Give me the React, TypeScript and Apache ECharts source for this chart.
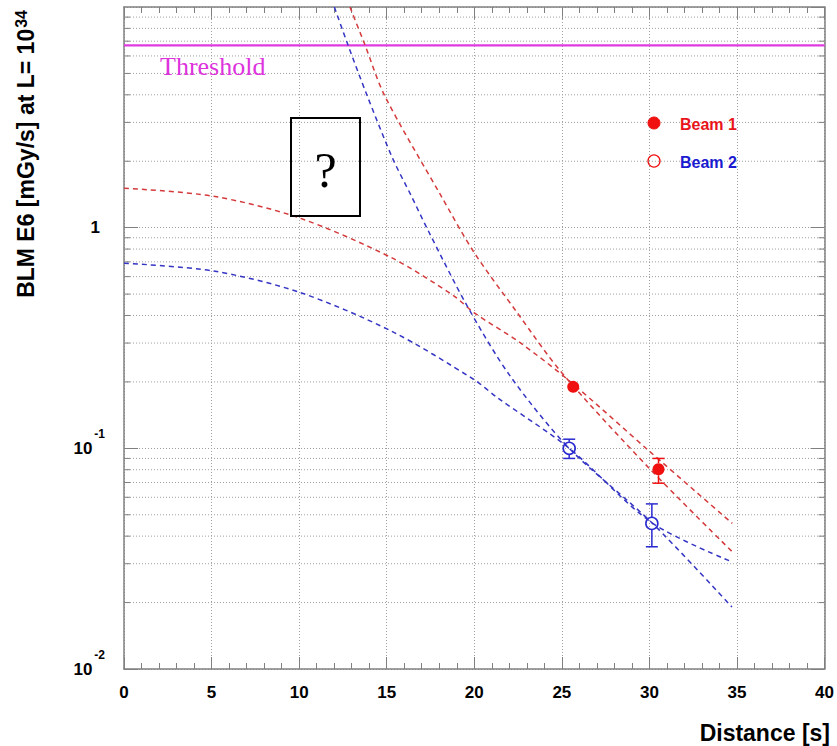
import React, { useEffect, useRef } from 'react';
import * as echarts from 'echarts';

// ---- axis ticks / labels ----
const X_MIN = 0;
const X_MAX = 40;
const X_STEP = 5;
const Y_MIN = 0.01;
const Y_MAX = 10;
const Y_DECADES = [0.01, 0.1, 1];
const Y_LABEL_BASE = ['10', '10', '1'];
const Y_LABEL_EXP = ['-2', '-1', ''];
const Y_MINOR = [
  0.02, 0.03, 0.04, 0.05, 0.06, 0.07, 0.08, 0.09,
  0.2, 0.3, 0.4, 0.5, 0.6, 0.7, 0.8, 0.9,
  2, 3, 4, 5, 6, 7, 8, 9,
];

// ---- curves ----
const RED_STEEP_X = [12.9, 13.75, 14.88, 18.09, 19.98, 22.44, 25.0, 30.0, 34.73];
const RED_STEEP_Y = [10, 6.76, 3.97, 1.4, 0.774, 0.413, 0.22, 0.081, 0.034];

const RED_FLAT_X = [0, 5.06, 9.97, 15.26, 18.85, 19.98, 22.62, 25.5, 30.0, 34.73];
const RED_FLAT_Y = [1.51, 1.39, 1.11, 0.732, 0.49, 0.412, 0.301, 0.2, 0.097, 0.0457];

const BLUE_STEEP_X = [12.01, 12.78, 13.88, 15.35, 16.39, 17.34, 19.6, 22.06, 25.42, 30.14, 34.71];
const BLUE_STEEP_Y = [10, 6.76, 3.97, 2.05, 1.4, 0.98, 0.441, 0.212, 0.1, 0.046, 0.0191];

const BLUE_FLAT_X = [0, 5.06, 9.97, 15.26, 19.98, 21.3, 25.42, 30.14, 34.71];
const BLUE_FLAT_Y = [0.69, 0.637, 0.511, 0.34, 0.205, 0.17, 0.1, 0.046, 0.0306];

// ---- measured points ----
const BEAM1_X = [25.65, 30.52];
const BEAM1_Y = [0.19, 0.0804];
const BEAM1_LO = [0.19, 0.0695];
const BEAM1_HI = [0.19, 0.09];

const BEAM2_X = [25.42, 30.14];
const BEAM2_Y = [0.1, 0.0457];
const BEAM2_LO = [0.09, 0.0358];
const BEAM2_HI = [0.11, 0.056];

const THRESHOLD = 6.7;

const FONT = '"Liberation Sans", Arial, Helvetica, sans-serif';
const SERIF = '"Liberation Serif", "Times New Roman", serif';
const FRAME = '#808080';
const GRID = '#a0a0a0';
const RED_LINE = '#d43a3c';
const BLUE_LINE = '#3535c4';
const RED_MARK = '#f01010';
const BLUE_MARK = '#2a2ad0';

function pairs(xs: number[], ys: number[]) {
  return xs.map((x, i) => [x, ys[i]]);
}

function errorRender(color: string, r: number) {
  return (params: any, api: any) => {
    const x = api.value(0);
    const y = api.value(1);
    const lo = api.value(2);
    const hi = api.value(3);
    const pc = api.coord([x, y]);
    const pl = api.coord([x, lo]);
    const ph = api.coord([x, hi]);
    const children: any[] = [];
    const st = { stroke: color, lineWidth: 1.5 };
    if (ph[1] < pc[1] - r) {
      children.push({ type: 'line', shape: { x1: pc[0], y1: ph[1], x2: pc[0], y2: pc[1] - r }, style: st });
      children.push({ type: 'line', shape: { x1: pc[0] - 6, y1: ph[1], x2: pc[0] + 6, y2: ph[1] }, style: st });
    }
    if (pl[1] > pc[1] + r) {
      children.push({ type: 'line', shape: { x1: pc[0], y1: pc[1] + r, x2: pc[0], y2: pl[1] }, style: st });
      children.push({ type: 'line', shape: { x1: pc[0] - 6, y1: pl[1], x2: pc[0] + 6, y2: pl[1] }, style: st });
    }
    return { type: 'group', children };
  };
}

function curve(name: string, xs: number[], ys: number[], color: string) {
  return {
    name,
    type: 'line',
    data: pairs(xs, ys),
    smooth: 0.3,
    showSymbol: false,
    silent: true,
    z: 3,
    lineStyle: { color, width: 1.5, type: [5, 4] },
  };
}

export default function App() {
  const ref = useRef<HTMLDivElement>(null);

  useEffect(() => {
    if (!ref.current) return;
    const chart = echarts.init(ref.current, undefined, { renderer: 'svg' });

    const xAxisCommon = {
      type: 'value',
      min: X_MIN,
      max: X_MAX,
      interval: X_STEP,
      axisLine: { show: true, onZero: false, lineStyle: { color: FRAME, width: 1.5 } },
      axisTick: { show: true, inside: true, length: 12, lineStyle: { color: FRAME, width: 1 } },
      minorTick: { show: true, splitNumber: 5, length: 6, lineStyle: { color: FRAME, width: 1 } },
      minorSplitLine: { show: false },
    };

    const option: any = {
      animation: false,
      grid: { left: 124, right: 7, top: 7, bottom: 77, containLabel: false },
      xAxis: [
        {
          ...xAxisCommon,
          position: 'bottom',
          splitLine: { show: true, lineStyle: { color: GRID, width: 1, type: [1, 2] } },
          axisLabel: {
            color: '#000',
            fontSize: 17,
            fontWeight: 'bold',
            fontFamily: FONT,
            margin: 15,
          },
        },
        {
          ...xAxisCommon,
          position: 'top',
          splitLine: { show: false },
          axisLabel: { show: false },
        },
      ],
      yAxis: [
        {
          type: 'log',
          logBase: 10,
          min: Y_MIN,
          max: Y_MAX,
          position: 'left',
          axisLine: { show: true, onZero: false, lineStyle: { color: FRAME, width: 1.5 } },
          axisTick: { show: true, inside: true, length: 14, lineStyle: { color: FRAME, width: 1 } },
          splitLine: { show: true, lineStyle: { color: GRID, width: 1, type: [1, 2] } },
          axisLabel: {
            margin: 19,
            showMaxLabel: false,
            formatter: (v: number) => {
              const i = Y_DECADES.findIndex((d) => Math.abs(Math.log10(d) - Math.log10(v)) < 1e-6);
              if (i < 0) return '';
              if (!Y_LABEL_EXP[i]) return '{o|' + Y_LABEL_BASE[i] + '}';
              return '{n|' + Y_LABEL_BASE[i] + '}{s|' + Y_LABEL_EXP[i] + '}';
            },
            rich: {
              n: { fontSize: 17, fontWeight: 'bold', fontFamily: FONT, color: '#000' },
              o: { fontSize: 17, fontWeight: 'bold', fontFamily: FONT, color: '#000', padding: [0, 5, 0, 0] },
              s: { fontSize: 12, fontWeight: 'bold', fontFamily: FONT, color: '#000', padding: [0, 0, 28, 2] },
            },
          },
        },
        {
          type: 'log',
          logBase: 10,
          min: Y_MIN,
          max: Y_MAX,
          position: 'right',
          axisLine: { show: true, onZero: false, lineStyle: { color: FRAME, width: 1.5 } },
          axisTick: { show: true, inside: true, length: 14, lineStyle: { color: FRAME, width: 1 } },
          splitLine: { show: false },
          axisLabel: { show: false },
        },
      ],
      series: [
        {
          name: 'minorGrid',
          type: 'custom',
          silent: true,
          z: 1,
          data: Y_MINOR.map((v) => [0, v]),
          renderItem: (params: any, api: any) => {
            const v = api.value(1);
            const a = api.coord([X_MIN, v]);
            const b = api.coord([X_MAX, v]);
            return {
              type: 'group',
              children: [
                { type: 'line', shape: { x1: a[0], y1: a[1], x2: b[0], y2: b[1] }, style: { stroke: GRID, lineWidth: 1, lineDash: [1, 2] } },
                { type: 'line', shape: { x1: a[0], y1: a[1], x2: a[0] + 6, y2: a[1] }, style: { stroke: FRAME, lineWidth: 1 } },
                { type: 'line', shape: { x1: b[0] - 6, y1: b[1], x2: b[0], y2: b[1] }, style: { stroke: FRAME, lineWidth: 1 } },
              ],
            };
          },
        },
        {
          name: 'Threshold',
          type: 'line',
          data: [[X_MIN, THRESHOLD], [X_MAX, THRESHOLD]],
          showSymbol: false,
          silent: true,
          z: 2,
          lineStyle: { color: '#e03ae0', width: 2.2 },
        },
        curve('Beam 1 fit A', RED_FLAT_X, RED_FLAT_Y, RED_LINE),
        curve('Beam 1 fit B', RED_STEEP_X, RED_STEEP_Y, RED_LINE),
        curve('Beam 2 fit A', BLUE_FLAT_X, BLUE_FLAT_Y, BLUE_LINE),
        curve('Beam 2 fit B', BLUE_STEEP_X, BLUE_STEEP_Y, BLUE_LINE),
        {
          name: 'Beam 1 err',
          type: 'custom',
          silent: true,
          z: 4,
          data: BEAM1_X.map((x, i) => [x, BEAM1_Y[i], BEAM1_LO[i], BEAM1_HI[i]]),
          renderItem: errorRender(RED_MARK, 6),
        },
        {
          name: 'Beam 2 err',
          type: 'custom',
          silent: true,
          z: 4,
          data: BEAM2_X.map((x, i) => [x, BEAM2_Y[i], BEAM2_LO[i], BEAM2_HI[i]]),
          renderItem: errorRender(BLUE_MARK, 6.5),
        },
        {
          name: 'Beam 1',
          type: 'scatter',
          data: pairs(BEAM1_X, BEAM1_Y),
          symbol: 'circle',
          symbolSize: 12,
          z: 5,
          itemStyle: { color: RED_MARK, opacity: 1 },
        },
        {
          name: 'Beam 2',
          type: 'scatter',
          data: pairs(BEAM2_X, BEAM2_Y),
          symbol: 'circle',
          symbolSize: 12,
          z: 5,
          itemStyle: { color: 'rgba(0,0,0,0)', borderColor: BLUE_MARK, borderWidth: 1.6, opacity: 1 },
        },
      ],
      graphic: [
        {
          type: 'text',
          x: 160,
          y: 66,
          style: { text: 'Threshold', fill: '#dd33dd', font: '26px ' + SERIF, align: 'left', verticalAlign: 'middle' },
          z: 10,
        },
        {
          type: 'rect',
          shape: { x: 291, y: 118, width: 69, height: 98 },
          style: { fill: 'none', stroke: '#000', lineWidth: 2 },
          z: 10,
        },
        {
          type: 'text',
          x: 325.5,
          y: 170,
          style: { text: '?', fill: '#000', font: '50px ' + SERIF, align: 'center', verticalAlign: 'middle' },
          z: 11,
        },
        {
          type: 'circle',
          shape: { cx: 654, cy: 123, r: 6 },
          style: { fill: RED_MARK, stroke: RED_MARK, lineWidth: 1 },
          z: 10,
        },
        {
          type: 'text',
          x: 680,
          y: 124,
          style: { text: 'Beam 1', fill: '#e8141a', font: 'bold 16px ' + FONT, align: 'left', verticalAlign: 'middle' },
          z: 10,
        },
        {
          type: 'circle',
          shape: { cx: 654, cy: 161, r: 6 },
          style: { fill: 'none', stroke: RED_MARK, lineWidth: 1.3 },
          z: 10,
        },
        {
          type: 'text',
          x: 680,
          y: 162,
          style: { text: 'Beam 2', fill: '#1a1ad0', font: 'bold 16px ' + FONT, align: 'left', verticalAlign: 'middle' },
          z: 10,
        },
        {
          type: 'text',
          x: 830,
          y: 733,
          style: { text: 'Distance [s]', fill: '#000', font: 'bold 23px ' + FONT, align: 'right', verticalAlign: 'middle' },
          z: 10,
        },
        {
          type: 'text',
          x: 26,
          y: 10,
          rotation: Math.PI / 2,
          style: {
            text: '{a|BLM E6 [mGy/s] at L= 10}{s|34}',
            align: 'right',
            verticalAlign: 'middle',
            rich: {
              a: { fontSize: 23, fontWeight: 'bold', fontFamily: FONT, fill: '#000', color: '#000' },
              s: { fontSize: 16, fontWeight: 'bold', fontFamily: FONT, fill: '#000', color: '#000', padding: [0, 0, 10, 1] },
            },
          },
          z: 10,
        },
      ],
    };

    chart.setOption(option);
    return () => chart.dispose();
  }, []);

  return (
    <div
      ref={ref}
      style={{ position: 'fixed', left: 0, top: 0, width: 837, height: 746, background: '#fff' }}
    />
  );
}
